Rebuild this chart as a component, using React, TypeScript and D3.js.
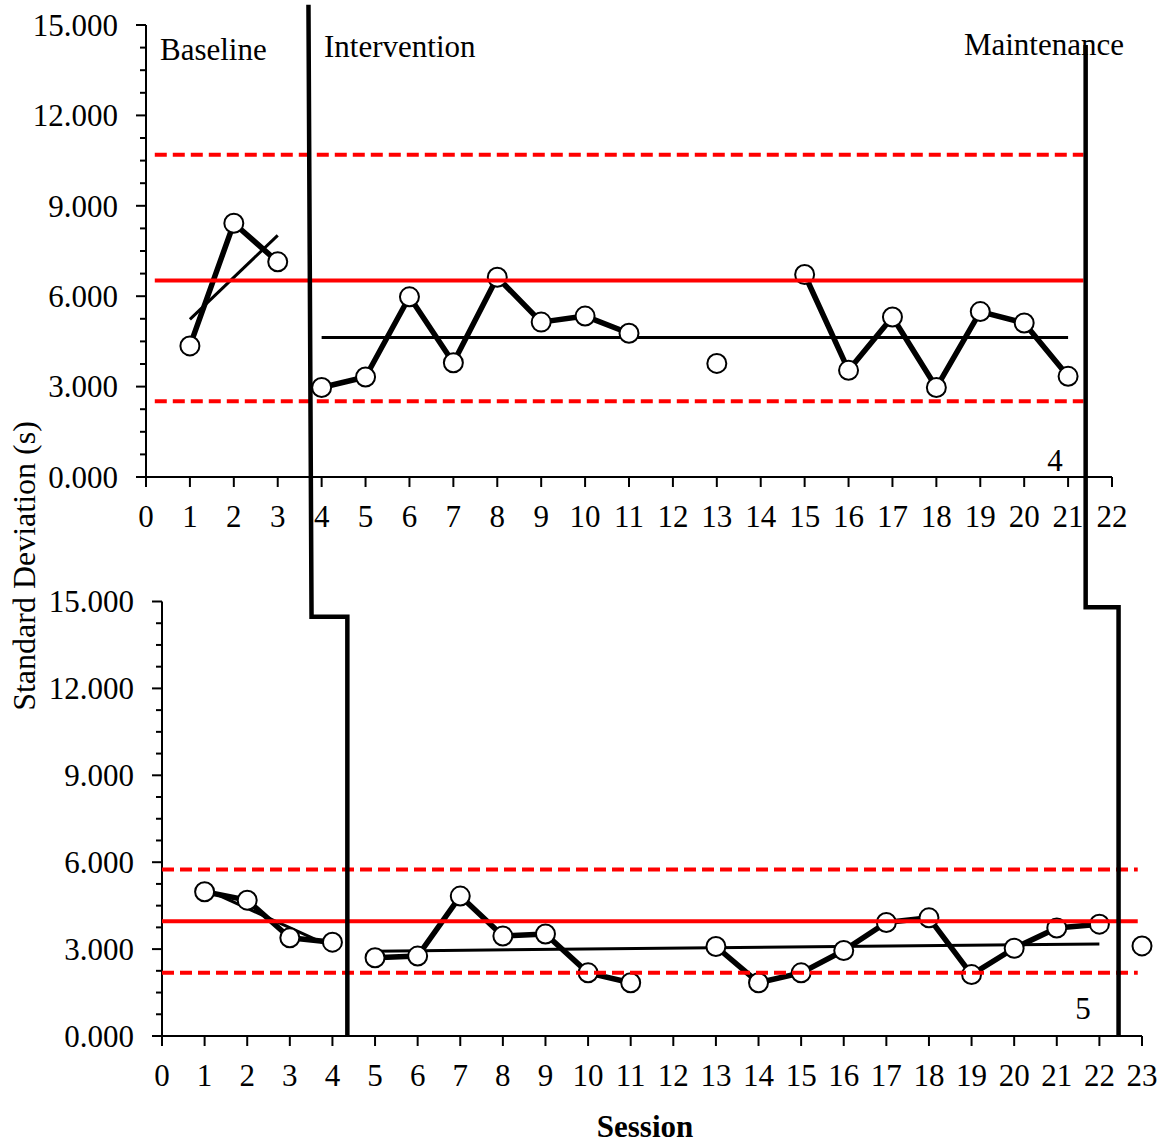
import React from "react";
import * as d3 from "d3";

// Participant 4 (upper panel): standard deviation per session
const p4BaselineSessions = [1, 2, 3];
const p4BaselineValues = [4.35, 8.42, 7.14];
const p4TreatmentSessions = [4, 5, 6, 7, 8, 9, 10, 11, 12, 13, 14, 15, 16, 17, 18, 19, 20, 21];
const p4TreatmentValues = [2.97, 3.32, 5.98, 3.79, 6.63, 5.14, 5.34, 4.77, null, 3.77, null, 6.72, 3.54, 5.31, 2.97, 5.49, 5.11, 3.34];

// Participant 5 (lower panel)
const p5BaselineSessions = [1, 2, 3, 4];
const p5BaselineValues = [4.98, 4.69, 3.39, 3.24];
const p5TreatmentSessions = [5, 6, 7, 8, 9, 10, 11, 12, 13, 14, 15, 16, 17, 18, 19, 20, 21, 22];
const p5TreatmentValues = [2.7, 2.76, 4.83, 3.45, 3.52, 2.18, 1.84, null, 3.09, 1.84, 2.18, 2.95, 3.92, 4.08, 2.12, 3.03, 3.73, 3.86];
const p5MaintenanceSessions = [23];
const p5MaintenanceValues = [3.11];

// Trend / level lines: [session, value] pairs
const p4BaselineTrend = [[1, 5.23], [3, 8.02]];
const p4TreatmentLevel = [[4, 4.63], [21, 4.63]];
const p5BaselineTrend = [[1, 5.08], [4, 3.07]];
const p5TreatmentTrend = [[5, 2.93], [22, 3.18]];

// Control limits: mean, upper, lower, and the session span they cover
const p4Limits = { mean: 6.52, upper: 10.69, lower: 2.51, from: 0.2, to: 21.35 };
const p5Limits = { mean: 3.96, upper: 5.75, lower: 2.18, from: 0, to: 22.9 };

const yTickValues = [0, 3, 6, 9, 12, 15];
const p4XTicks = d3.range(0, 23);
const p5XTicks = d3.range(0, 24);

const phaseLabels = ["Baseline", "Intervention", "Maintenance"];

const FONT = "'Liberation Serif', 'Times New Roman', serif";
const FS = 31;

const xTop = d3.scaleLinear().domain([0, 22]).range([146, 1112]);
const yTop = d3.scaleLinear().domain([0, 15]).range([477, 25]);
const xBot = d3.scaleLinear().domain([0, 23]).range([162, 1142]);
const yBot = d3.scaleLinear().domain([0, 15]).range([1036, 601.5]);

type Pt = [number, number | null];

function zip(s: number[], v: (number | null)[]): Pt[] {
  return s.map((d, i) => [d, v[i]]);
}

function Panel({ x, y, xTicks, series, trends, limits, yLabelRight }: any) {
  const line = d3
    .line<Pt>()
    .defined((d) => d[1] !== null)
    .x((d) => x(d[0]))
    .y((d) => y(d[1] as number));
  const [x0, x1] = x.domain();
  const minor = d3.range(0, 15.001, 0.75);
  return (
    <g>
      {/* y axis */}
      <line x1={x(0)} x2={x(0)} y1={y(0)} y2={y(15)} stroke="#000" strokeWidth={2} />
      {minor.map((t: number) => {
        const major = yTickValues.includes(t);
        return (
          <line key={"ym" + t} x1={x(0) - (major ? 10 : 6)} x2={x(0)} y1={y(t)} y2={y(t)} stroke="#000" strokeWidth={2} />
        );
      })}
      {yTickValues.map((t) => (
        <text key={"yl" + t} x={yLabelRight} y={y(t)} dy="0.35em" textAnchor="end" fontFamily={FONT} fontSize={FS}>
          {t.toFixed(3)}
        </text>
      ))}
      {/* x axis */}
      <line x1={x(x0)} x2={x(x1)} y1={y(0)} y2={y(0)} stroke="#000" strokeWidth={2} />
      {xTicks.map((t: number) => (
        <g key={"xt" + t}>
          <line x1={x(t)} x2={x(t)} y1={y(0)} y2={y(0) + 10} stroke="#000" strokeWidth={2} />
          <text x={x(t)} y={y(0) + 50} textAnchor="middle" fontFamily={FONT} fontSize={FS}>
            {t}
          </text>
        </g>
      ))}
      {/* trend lines */}
      {trends.map((t: Pt[], i: number) => (
        <path key={"tr" + i} d={line(t) || ""} fill="none" stroke="#000" strokeWidth={3} />
      ))}
      {/* data paths */}
      {series.map((s: Pt[], i: number) => (
        <path key={"ln" + i} d={line(s) || ""} fill="none" stroke="#000" strokeWidth={5.5} strokeLinejoin="round" />
      ))}
      {series.map((s: Pt[], i: number) =>
        s
          .filter((d) => d[1] !== null)
          .map((d) => (
            <circle key={"c" + i + "-" + d[0]} cx={x(d[0])} cy={y(d[1] as number)} r={9.5} fill="#fff" stroke="#000" strokeWidth={2} />
          ))
      )}
      {/* control limits */}
      <line x1={x(limits.from)} x2={x(limits.to)} y1={y(limits.mean)} y2={y(limits.mean)} stroke="#ff0000" strokeWidth={4} />
      <line x1={x(limits.from)} x2={x(limits.to)} y1={y(limits.upper)} y2={y(limits.upper)} stroke="#ff0000" strokeWidth={4} strokeDasharray="12,6" />
      <line x1={x(limits.from)} x2={x(limits.to)} y1={y(limits.lower)} y2={y(limits.lower)} stroke="#ff0000" strokeWidth={4} strokeDasharray="12,6" />
    </g>
  );
}

// Phase-change lines run through both panels with a step between them
const phaseChanges = [
  { topSession: 3.7, topSessionLow: 3.77, topStart: 15.67, step: 14.47, bottomSession: 4.35 },
  { topSession: 21.4, topSessionLow: 21.4, topStart: 14.34, step: 14.8, bottomSession: 22.45 },
];

export default function App() {
  const phasePaths = phaseChanges.map((p) => {
    const pts: [number, number][] = [
      [xTop(p.topSession), yTop(p.topStart)],
      [xTop(p.topSessionLow), yBot(p.step)],
      [xBot(p.bottomSession), yBot(p.step)],
      [xBot(p.bottomSession), yBot(0)],
    ];
    return d3.line()(pts) || "";
  });

  return (
    <svg
      width={1167}
      height={1145}
      style={{ position: "absolute", left: 0, top: 0, background: "#fff" }}
    >
      <rect width={1167} height={1145} fill="#fff" />
      <Panel
        x={xTop}
        y={yTop}
        xTicks={p4XTicks}
        yLabelRight={118}
        series={[zip(p4BaselineSessions, p4BaselineValues), zip(p4TreatmentSessions, p4TreatmentValues)]}
        trends={[p4BaselineTrend, p4TreatmentLevel]}
        limits={p4Limits}
      />
      <Panel
        x={xBot}
        y={yBot}
        xTicks={p5XTicks}
        yLabelRight={134}
        series={[
          zip(p5BaselineSessions, p5BaselineValues),
          zip(p5TreatmentSessions, p5TreatmentValues),
          zip(p5MaintenanceSessions, p5MaintenanceValues),
        ]}
        trends={[p5BaselineTrend, p5TreatmentTrend]}
        limits={p5Limits}
      />
      {phasePaths.map((d, i) => (
        <path key={"ph" + i} d={d} fill="none" stroke="#000" strokeWidth={4.5} />
      ))}
      {/* phase labels */}
      <text x={160} y={60} fontFamily={FONT} fontSize={FS}>{phaseLabels[0]}</text>
      <text x={324} y={57} fontFamily={FONT} fontSize={FS}>{phaseLabels[1]}</text>
      <text x={1124} y={55} textAnchor="end" fontFamily={FONT} fontSize={FS}>{phaseLabels[2]}</text>
      {/* participant numbers */}
      <text x={1055} y={471} textAnchor="middle" fontFamily={FONT} fontSize={FS}>4</text>
      <text x={1083} y={1019} textAnchor="middle" fontFamily={FONT} fontSize={FS}>5</text>
      {/* axis titles */}
      <text
        transform="translate(35,566) rotate(-90)"
        textAnchor="middle"
        fontFamily={FONT}
        fontSize={32}
      >
        Standard Deviation (s)
      </text>
      <text x={645} y={1137} textAnchor="middle" fontFamily={FONT} fontSize={FS} fontWeight="bold">
        Session
      </text>
    </svg>
  );
}
